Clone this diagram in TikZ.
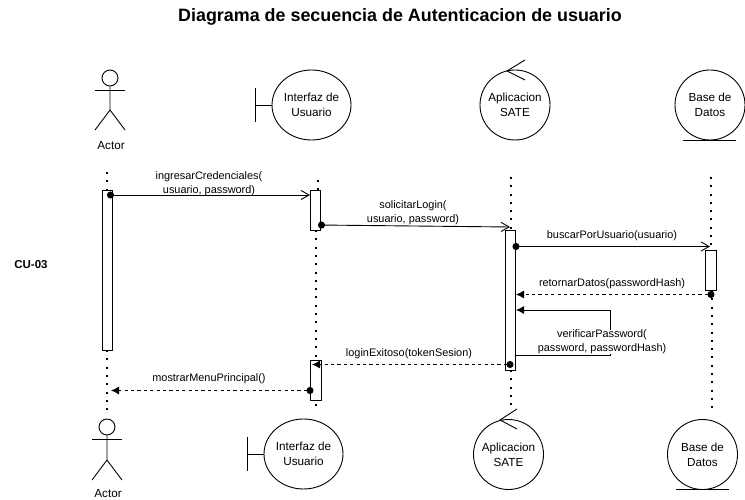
\documentclass[tikz,border=0pt]{standalone}
\usepackage{fontspec}
\setmainfont{Liberation Sans}
\usetikzlibrary{arrows.meta,shapes.geometric}
\tikzset{
    lifeline/.style={line width=2pt,dash pattern=on 2pt off 6.3pt},
    activation/.style={draw,fill=white,minimum width=10.5,inner sep=0},
    objlabel/.style={circle,draw,minimum size=70,inner sep=0,align=center,
                     font=\fontsize{11.7}{15}\selectfont,
                     execute at begin node={\rule{0pt}{11.5pt}}},
    msglabel/.style={fill=white,inner sep=0,align=center,
                     font=\fontsize{10.9}{14}\selectfont},
    syncmsg/.style={{Circle[length=7pt,width=7pt]}-{Straight Barb[length=8pt,width=9pt]}},
    returnmsg/.style={dashed,dash pattern=on 3.2pt off 3.2pt,
                      {Circle[length=7pt,width=7pt]}-{Latex[length=8pt,width=8pt]}},
}
\begin{document}
\begin{tikzpicture}[x=1pt,y=-1pt,line width=0.9pt]
            \useasboundingbox (0,0) rectangle (745,500);
            \node (titulo) at (400,17) {\fontsize{17.9}{21}\selectfont\textbf{Diagrama de secuencia de Autenticacion de usuario}};
            \node (casoUso) at (31,264.5) {\fontsize{11.5}{14}\selectfont\textbf{CU-03}};

            \coordinate (lineActorTop) at (106.5,172);
            \coordinate (lineActorEnd) at (106.5,410);
            \coordinate (lineInterfazTop) at (318,180);
            \coordinate (lineInterfazEnd) at (315.5,410);
            \coordinate (lineAppTop) at (510.5,177);
            \coordinate (lineAppEnd) at (510.5,410);
            \coordinate (lineDatosTop) at (710.5,177);
            \coordinate (lineDatosEnd) at (712,410);

            \draw[lifeline] (lineActorTop) -- (lineActorTop |- 0,190);
            \draw[lifeline] (lineActorEnd |- 0,350) -- (lineActorEnd);
            \draw[lifeline] (lineInterfazTop) -- (lineInterfazTop |- 0,190);
            \draw[lifeline] (lineInterfazEnd |- 0,230) -- (lineInterfazEnd);
            \draw[lifeline] (lineAppTop) -- (lineAppTop |- 0,230);
            \draw[lifeline] (lineAppEnd |- 0,370) -- (lineAppEnd);
            \draw[lifeline] (lineDatosTop) -- (lineDatosTop |- 0,250);
            \draw[lifeline] (lineDatosEnd |- 0,290) -- (lineDatosEnd);

            \node[activation,minimum height=160] (barActor) at (107.5,270) {};
            \node[activation,minimum height=40] (barInterfazA) at (315.2,210) {};
            \node[activation,minimum height=140] (barApp) at (510.5,300) {};
            \node[activation,minimum height=40] (barDatos) at (711,270) {};
            \node[activation,minimum height=40] (barInterfazB) at (315.7,380.5) {};

            \begin{scope}[shift={(110,78)}]
                \node[circle,draw,minimum size=16,inner sep=0] (cabezaActorA) at (0,0) {};
                \draw (cabezaActorA.south) -- (0,32) -- (-15,52);
                \draw (0,32) -- (15,52);
                \draw (-15,12) -- (15,12);
                \node[font=\fontsize{11.7}{15}\selectfont] (textoActorA) at (1,68) {Actor};
            \end{scope}
            \begin{scope}[shift={(311.5,105)}]
                \node[objlabel,ellipse,minimum width=79,minimum height=70] (interfazA) at (0,0) {Interfaz de\\Usuario};
                \draw (interfazA.west) -- (-56,0);
                \draw (-56,-17) -- (-56,17);
            \end{scope}
            \begin{scope}[shift={(515,105)}]
                \node[objlabel] (appA) at (0,0) {Aplicacion\\SATE};
                \draw (10,-45) -- (-8,-34) -- (10,-25);
            \end{scope}
            \begin{scope}[shift={(710,105)}]
                \node[objlabel] (datosA) at (0,0) {Base de\\Datos};
                \draw (-27,35) -- (26,35);
            \end{scope}

            \begin{scope}[shift={(107,427)}]
                \node[circle,draw,minimum size=16,inner sep=0] (cabezaActorB) at (0,0) {};
                \draw (cabezaActorB.south) -- (0,33) -- (-15,53);
                \draw (0,33) -- (15,53);
                \draw (-15,12) -- (15,12);
                \node[font=\fontsize{11.7}{15}\selectfont] (textoActorB) at (1,67) {Actor};
            \end{scope}
            \begin{scope}[shift={(303.5,454)}]
                \node[objlabel,ellipse,minimum width=79,minimum height=70] (interfazB) at (0,0) {Interfaz de\\Usuario};
                \draw (interfazB.west) -- (-56,0);
                \draw (-56,-17) -- (-56,17);
            \end{scope}
            \begin{scope}[shift={(508.5,454.5)}]
                \node[objlabel] (appB) at (0,0) {Aplicacion\\SATE};
                \draw (8.5,-45.5) -- (-8.5,-34.5) -- (8.5,-25.5);
            \end{scope}
            \begin{scope}[shift={(702.5,454.5)}]
                \node[objlabel] (datosB) at (0,0) {Base de\\Datos};
                \draw (-26.5,35) -- (26.5,35);
            \end{scope}

            \coordinate (iniLogin) at (107,195);
            \coordinate (finLogin) at (310,195);
            \coordinate (iniSolicitar) at (318,225);
            \coordinate (finSolicitar) at (510,227);
            \coordinate (iniBuscar) at (512.5,246.5);
            \coordinate (finBuscar) at (710,246.5);
            \coordinate (iniRetornar) at (714.5,294.5);
            \coordinate (finRetornar) at (516,294.5);
            \coordinate (iniVerificar) at (barApp.east |- 0,355);
            \coordinate (esqVerificarA) at (610,355);
            \coordinate (esqVerificarB) at (610,310);
            \coordinate (finVerificar) at (516,310);
            \coordinate (iniExitoso) at (513.5,364.5);
            \coordinate (finExitoso) at (312,364.5);
            \coordinate (iniMenu) at (313.5,390.5);
            \coordinate (finMenu) at (111,390.5);

            \node[msglabel] (msgLogin) at (209,183.5) {ingresarCredenciales(\\usuario, password)};
            \node[msglabel] (msgSolicitar) at (413,212.5) {solicitarLogin(\\usuario, password)};
            \draw[syncmsg] (iniLogin) -- (finLogin);
            \draw[syncmsg] (iniSolicitar) -- (finSolicitar);
            \draw[syncmsg] (iniBuscar) -- (finBuscar);
            \draw[returnmsg] (iniRetornar) -- (finRetornar);
            \draw[-{Latex[length=8pt,width=8pt]}] (iniVerificar) -- (esqVerificarA) -- (esqVerificarB) -- (finVerificar);
            \draw[returnmsg] (iniExitoso) -- (finExitoso);
            \draw[returnmsg] (iniMenu) -- (finMenu);

            \node[msglabel] (msgBuscar) at (612,235.5) {buscarPorUsuario(usuario)};
            \node[msglabel] (msgRetornar) at (612,283.5) {retornarDatos(passwordHash)};
            \node[msglabel] (msgVerificar) at (602,342) {verificarPassword(\\password, passwordHash)};
            \node[msglabel] (msgExitoso) at (409,353.5) {loginExitoso(tokenSesion)};
            \node[msglabel] (msgMenu) at (209,378.5) {mostrarMenuPrincipal()};
        \end{tikzpicture}
\end{document}
